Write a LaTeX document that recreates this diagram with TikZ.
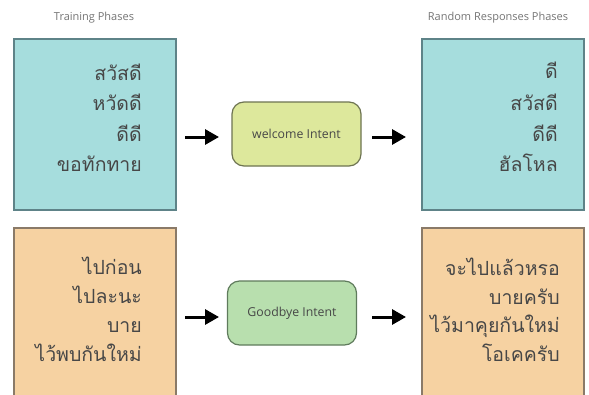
\documentclass[tikz,border=0pt]{standalone}
\usepackage{fontspec}
\setmainfont{Open Sans}
\newfontfamily\thaifont[Script=Thai]{Loma}
\usetikzlibrary{arrows.meta}
\definecolor{tealfill}{HTML}{A6DDDD}
\definecolor{tealdraw}{HTML}{5E8388}
\definecolor{orfill}{HTML}{F6D2A2}
\definecolor{ordraw}{HTML}{8A7A68}
\definecolor{yfill}{HTML}{DDE89C}
\definecolor{ydraw}{HTML}{6E7452}
\definecolor{gfill}{HTML}{B8DFAE}
\definecolor{gdraw}{HTML}{5F7B5C}
\definecolor{txt}{HTML}{474747}
\tikzset{
  x=1pt, y=-1pt,
  phasebox/.style={draw=#1, line width=1.2pt},
  intentbox/.style={draw=#1, line width=1.2pt, rounded corners=12pt, minimum width=129pt, minimum height=64pt, inner sep=0pt, font=\fontsize{12.3}{14}\selectfont, text=txt},
  thline/.style={anchor=base east, inner sep=0pt, font=\thaifont\fontsize{19.5}{22}\selectfont, text=txt},
  title/.style={inner sep=0pt, font=\fontsize{11}{13}\selectfont, text=txt!75},
  flow/.style={-{Triangle[length=14pt,width=15pt]}, line width=3pt, black}
}
\begin{document}
\begin{tikzpicture}
\useasboundingbox (0,0) rectangle (589,394);
\clip (0,0) rectangle (589,394);
\fill[white] (0,0) rectangle (589,394);
% titles
\node[title] (t1) at (94,18) {Training Phases};
\node[title] (t2) at (498,18) {Random Responses Phases};
% phase boxes
\fill[tealfill] (14,39) rectangle (176,210);
\draw[phasebox=tealdraw] (14,39) rectangle (176,210);
\fill[tealfill] (422,39) rectangle (584,210);
\draw[phasebox=tealdraw] (422,39) rectangle (584,210);
\fill[orfill] (14,228) rectangle (176,400);
\draw[phasebox=ordraw] (14,228) rectangle (176,400);
\fill[orfill] (422,228) rectangle (584,400);
\draw[phasebox=ordraw] (422,228) rectangle (584,400);
% thai lines
\node[thline] (a1) at (142,80) {สวัสดี};
\node[thline] (a2) at (142,110) {หวัดดี};
\node[thline] (a3) at (142,141) {ดีดี};
\node[thline] (a4) at (142,171) {ขอทักทาย};
\node[thline] (b1) at (558,78) {ดี};
\node[thline] (b2) at (558,110) {สวัสดี};
\node[thline] (b3) at (558,141) {ดีดี};
\node[thline] (b4) at (558,171) {ฮัลโหล};
\node[thline] (c1) at (142,274) {ไปก่อน};
\node[thline] (c2) at (142,303) {ไปละนะ};
\node[thline] (c3) at (142,332) {บาย};
\node[thline] (c4) at (142,361) {ไว้พบกันใหม่};
\node[thline] (d1) at (560,275) {จะไปแล้วหรอ};
\node[thline] (d2) at (560,304) {บายครับ};
\node[thline] (d3) at (560,332) {ไว้มาคุยกันใหม่};
\node[thline] (d4) at (560,361) {โอเคครับ};
% intents
\node[intentbox=ydraw, fill=yfill] (w) at (296.5,134) {welcome Intent};
\node[intentbox=gdraw, fill=gfill] (g) at (292,313) {Goodbye Intent};
% arrows
\coordinate (p1) at (185,137); \coordinate (p2) at (219,137);
\coordinate (p3) at (372,137); \coordinate (p4) at (406,137);
\coordinate (q1) at (185,317); \coordinate (q2) at (219,317);
\coordinate (q3) at (372,317); \coordinate (q4) at (406,317);
\draw[flow] (p1) -- (p2);
\draw[flow] (p3) -- (p4);
\draw[flow] (q1) -- (q2);
\draw[flow] (q3) -- (q4);
\end{tikzpicture}
\end{document}
